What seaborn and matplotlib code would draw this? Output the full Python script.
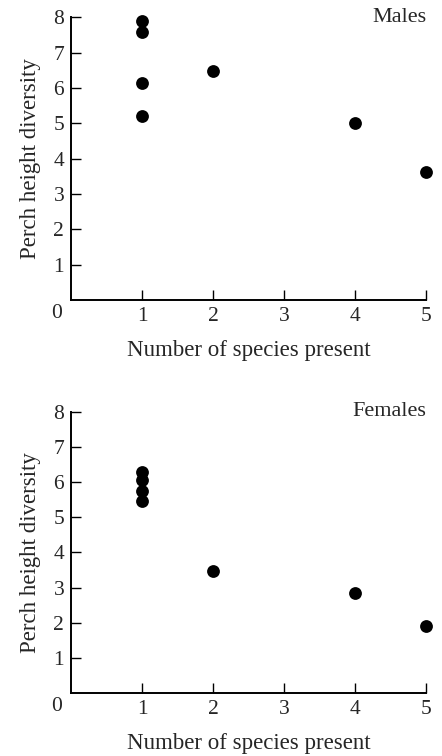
import seaborn as sns
import matplotlib.pyplot as plt
import pandas as pd

# Dati
males_x = [1, 1, 1, 1, 2, 4, 5]
males_y = [7.9, 7.6, 6.15, 5.2, 6.48, 5.0, 3.62]
females_x = [1, 1, 1, 1, 2, 4, 5]
females_y = [6.3, 6.07, 5.75, 5.47, 3.48, 2.84, 1.91]
x_ticks = [1, 2, 3, 4, 5]
y_ticks = [1, 2, 3, 4, 5, 6, 7, 8]

sns.set_style('ticks')
plt.rcParams['font.family'] = ['Liberation Serif', 'DejaVu Serif']

fig = plt.figure(figsize=(4.42, 7.56), dpi=100)
ax_m = fig.add_axes([0.161, 0.603, 0.803, 0.374])
ax_f = fig.add_axes([0.161, 0.0833, 0.803, 0.372])

panels = [(ax_m, males_x, males_y, 'Males'), (ax_f, females_x, females_y, 'Females')]
for ax, xs, ys, label in panels:
    df = pd.DataFrame({'x': xs, 'y': ys})
    sns.scatterplot(data=df, x='x', y='y', ax=ax, color='black', s=85,
                    edgecolor='black', linewidth=0, clip_on=False, zorder=5)
    ax.set_xlim(0, 5)
    ax.set_ylim(0, 8)
    ax.set_xticks(x_ticks)
    ax.set_yticks(y_ticks)
    ax.tick_params(direction='in', length=7, width=1, labelsize=15.5, color='black')
    ax.tick_params(axis='x', pad=5)
    ax.tick_params(axis='y', pad=5)
    for side in ['top', 'right']:
        ax.spines[side].set_visible(False)
    for side in ['left', 'bottom']:
        ax.spines[side].set_linewidth(1.4)
        ax.spines[side].set_color('black')
    ax.set_xlabel('Number of species present', fontsize=16.5, labelpad=10)
    ax.set_ylabel('Perch height diversity', fontsize=16.5, labelpad=9)
    ax.text(5, 8, label, ha='right', va='center', fontsize=16)
    # etichetta "0" all'origine
    ax.text(-0.2, -0.38, '0', ha='center', va='center', fontsize=15.5)

fig.savefig('out.png', dpi=100)
